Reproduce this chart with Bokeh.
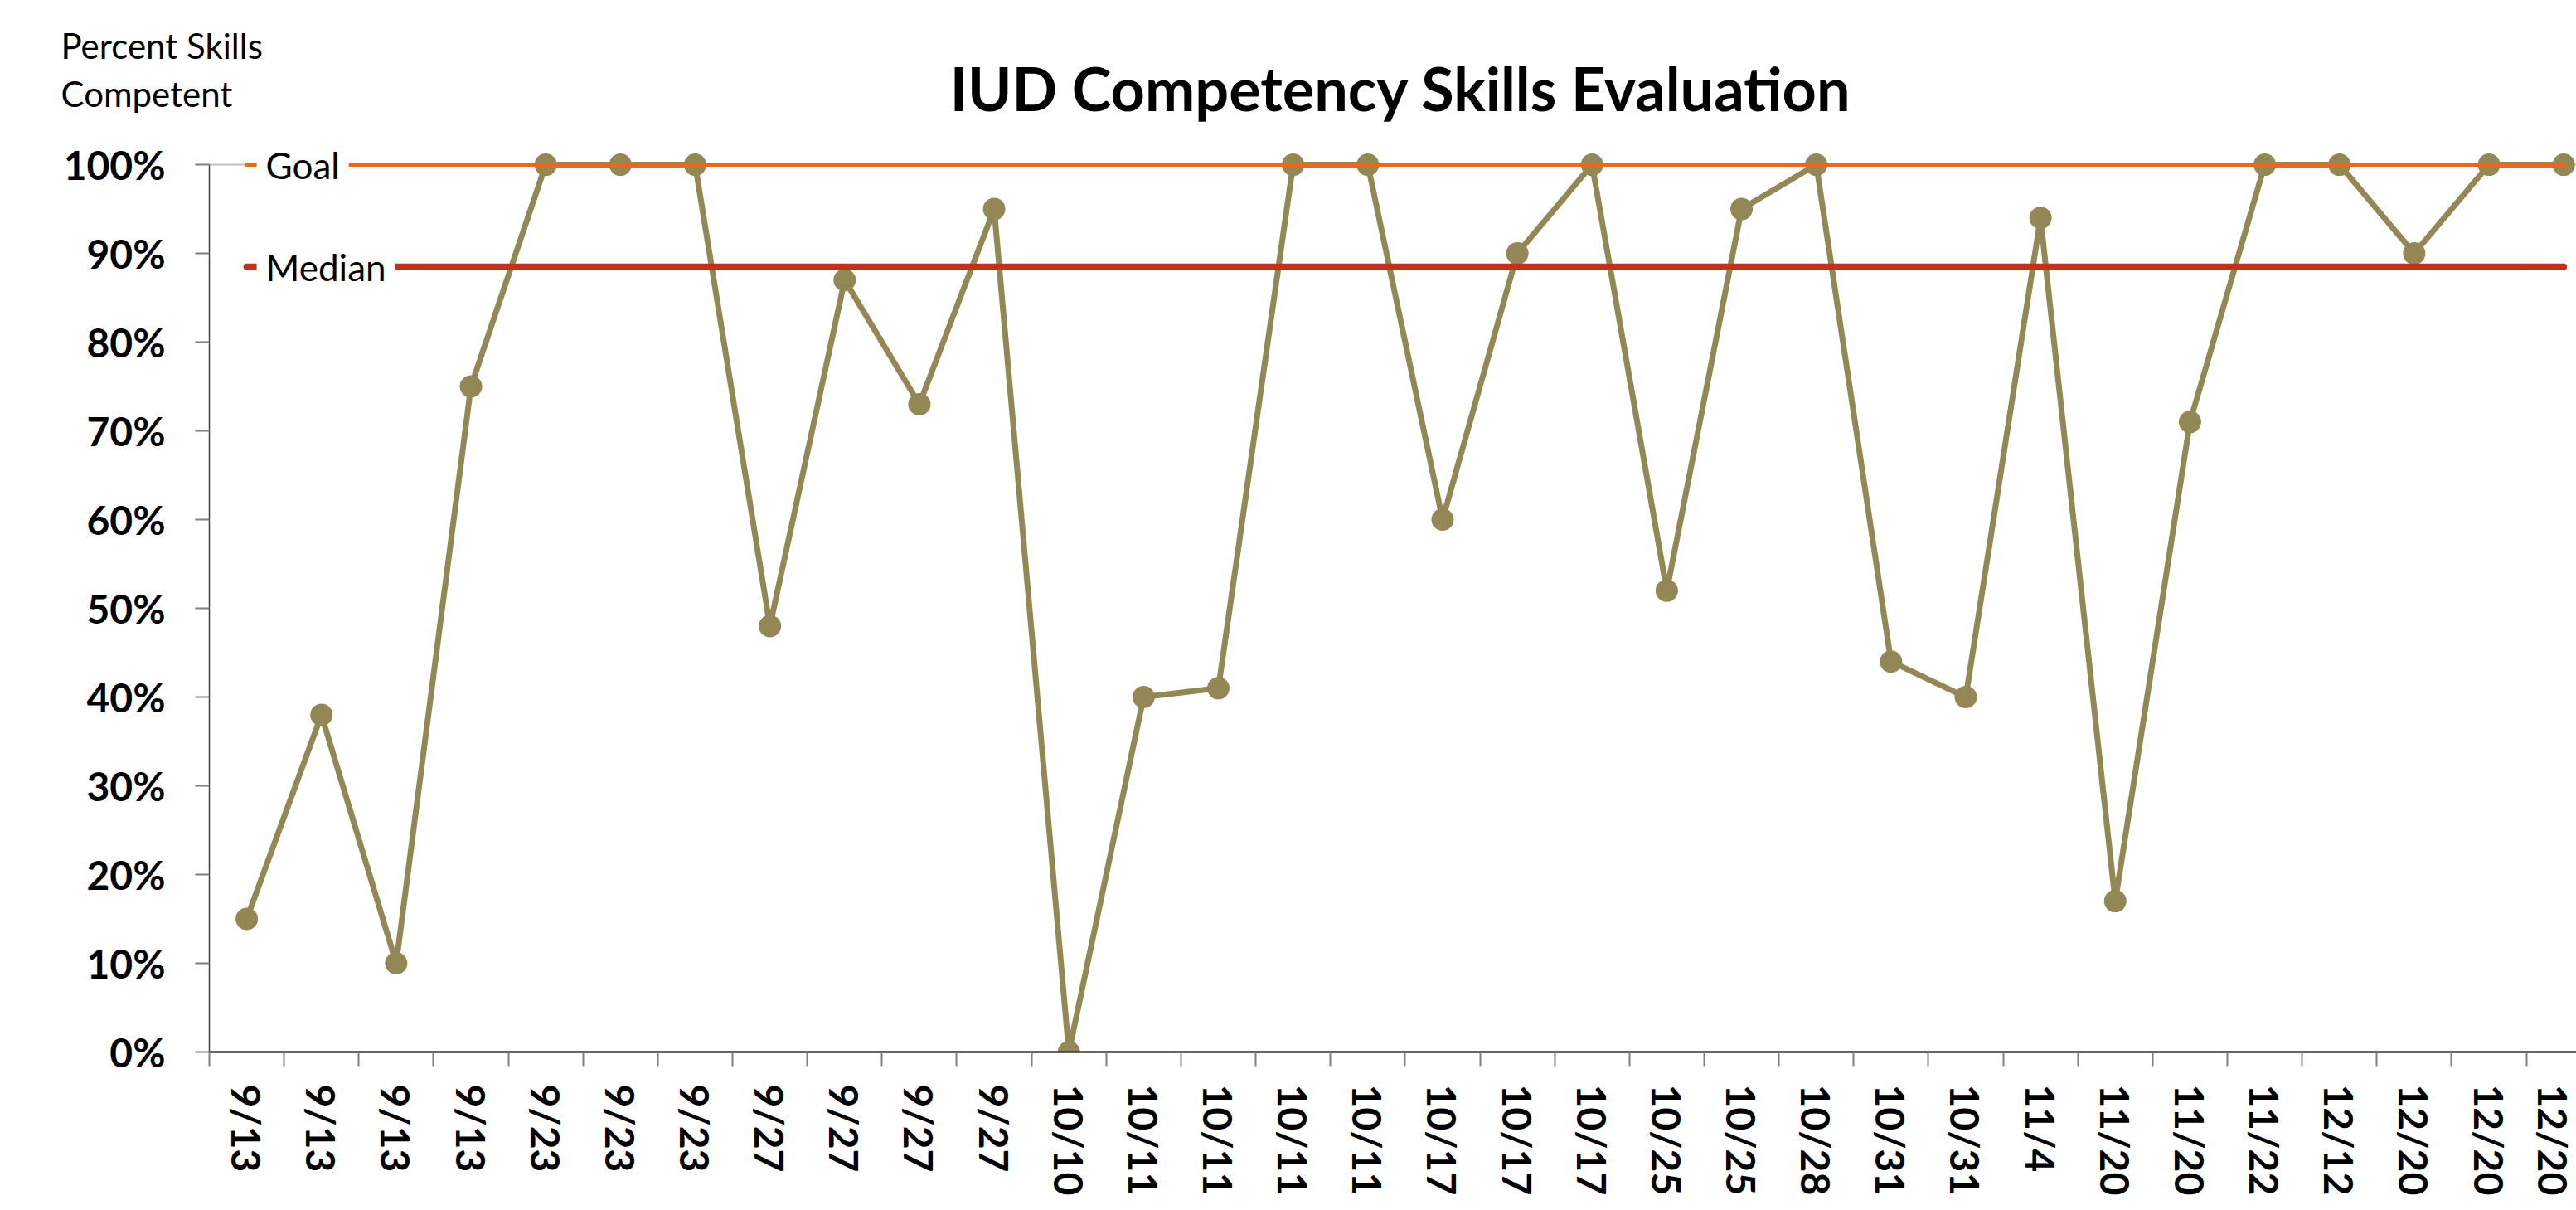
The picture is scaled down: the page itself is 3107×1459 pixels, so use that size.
import math
from bokeh.plotting import figure
from bokeh.models import Range1d, FixedTicker, Label, Span, ColumnDataSource
from bokeh.embed import file_html
from bokeh.resources import INLINE

# ---- data ----
dates = ["9/13", "9/13", "9/13", "9/13", "9/23", "9/23", "9/23", "9/27", "9/27", "9/27",
         "9/27", "10/10", "10/11", "10/11", "10/11", "10/11", "10/17", "10/17", "10/17",
         "10/25", "10/25", "10/28", "10/31", "10/31", "11/4", "11/20", "11/20", "11/22",
         "12/12", "12/20", "12/20", "12/20"]
percent_competent = [15, 38, 10, 75, 100, 100, 100, 48, 87, 73, 95, 0, 40, 41, 100, 100,
                     60, 90, 100, 52, 95, 100, 44, 40, 94, 17, 71, 100, 100, 90, 100, 100]
GOAL = 100
MEDIAN = 88.5
y_ticks = [0, 10, 20, 30, 40, 50, 60, 70, 80, 90, 100]
y_tick_labels = ["0%", "10%", "20%", "30%", "40%", "50%", "60%", "70%", "80%", "90%", "100%"]

TITLE = "IUD Competency Skills Evaluation"
Y_TITLE_1 = "Percent Skills"
Y_TITLE_2 = "Competent"

FONT = "Lato"
OLIVE = "#938756"
ORANGE = "#E8691C"
RED = "#C4301A"

W, H = 3107, 1459
HEADER_H = 166

xs = list(range(len(dates)))
src = ColumnDataSource(dict(x=xs, y=percent_competent, label=dates))

# ---- header with title and y-axis caption (pixel coordinates) ----
header = figure(width=W, height=HEADER_H, output_backend="svg",
                toolbar_location=None, x_axis_type=None, y_axis_type=None, min_border=0,
                title=None, x_range=Range1d(0, W), y_range=Range1d(HEADER_H, 0))
header.outline_line_color = None
header.background_fill_color = "white"
header.border_fill_color = "white"
header.grid.grid_line_color = None
header.add_layout(Label(x=1689, y=105, text=TITLE, text_font=FONT, text_font_style="bold",
                        text_font_size="72px", text_color="black", text_align="center",
                        text_baseline="alphabetic"))
header.add_layout(Label(x=73, y=54, text=Y_TITLE_1, text_font=FONT,
                        text_font_size="42px", text_color="black", text_align="left",
                        text_baseline="alphabetic"))
header.add_layout(Label(x=73, y=112, text=Y_TITLE_2, text_font=FONT,
                        text_font_size="42px", text_color="black", text_align="left",
                        text_baseline="alphabetic"))

# ---- main chart ----
p = figure(width=W, height=H - HEADER_H, output_backend="svg",
           toolbar_location=None, title=None,
           x_range=Range1d(-0.5, 31.17), y_range=Range1d(0, 103),
           min_border_left=252, min_border_right=0, min_border_top=0,
           min_border_bottom=191)
p.outline_line_color = None
p.background_fill_color = "white"
p.border_fill_color = "white"
p.xgrid.grid_line_color = None
p.ygrid.grid_line_color = None

# x axis
xa = p.xaxis[0]
xa.ticker = FixedTicker(ticks=xs, minor_ticks=[i - 0.5 for i in range(len(dates) + 1)])
xa.major_label_overrides = {i: d for i, d in enumerate(dates)}
xa.major_tick_line_color = None
xa.major_tick_out = 17
xa.major_tick_in = 0
xa.minor_tick_out = 17
xa.minor_tick_in = 0
xa.minor_tick_line_color = "#7f7f7f"
xa.minor_tick_line_width = 2
xa.axis_line_color = "#333333"
xa.axis_line_width = 2.5
xa.major_label_orientation = -math.pi / 2
xa.major_label_standoff = 22
xa.major_label_text_font = FONT
xa.major_label_text_font_style = "bold"
xa.major_label_text_font_size = "48px"
xa.major_label_text_color = "black"

# y axis
ya = p.yaxis[0]
ya.ticker = FixedTicker(ticks=y_ticks)
ya.major_label_overrides = {t: l for t, l in zip(y_ticks, y_tick_labels)}
ya.bounds = (0, 100)
ya.minor_tick_line_color = None
ya.major_tick_out = 17
ya.major_tick_in = 0
ya.major_tick_line_color = "#7f7f7f"
ya.major_tick_line_width = 2
ya.axis_line_color = "#404040"
ya.axis_line_width = 1.5
ya.major_label_standoff = 36
ya.major_label_text_font = FONT
ya.major_label_text_font_style = "bold"
ya.major_label_text_font_size = "48px"
ya.major_label_text_color = "black"

# light gray line at 100%
p.add_layout(Span(location=GOAL, dimension="width", line_color="#c0c0c0", line_width=2,
                  level="underlay"))

# series
p.line("x", "y", source=src, line_color=OLIVE, line_width=7, line_join="round")
p.scatter("x", "y", source=src, size=27, fill_color=OLIVE, line_color=None)

# goal and median lines
p.line([xs[0], xs[-1]], [GOAL, GOAL], line_color=ORANGE, line_width=5, line_cap="round")
p.line([xs[0], xs[-1]], [MEDIAN, MEDIAN], line_color=RED, line_width=8, line_cap="round")

p.add_layout(Label(x=xs[0], y=GOAL, x_offset=12, text="Goal", text_font=FONT,
                   text_font_size="44px", text_color="black", text_align="left",
                   text_baseline="middle", background_fill_color="white", padding=11))
p.add_layout(Label(x=xs[0], y=MEDIAN, x_offset=12, text="Median", text_font=FONT,
                   text_font_size="44px", text_color="black", text_align="left",
                   text_baseline="middle", background_fill_color="white", padding=11))

open("out.html", "w").write(file_html([header, p], INLINE))
